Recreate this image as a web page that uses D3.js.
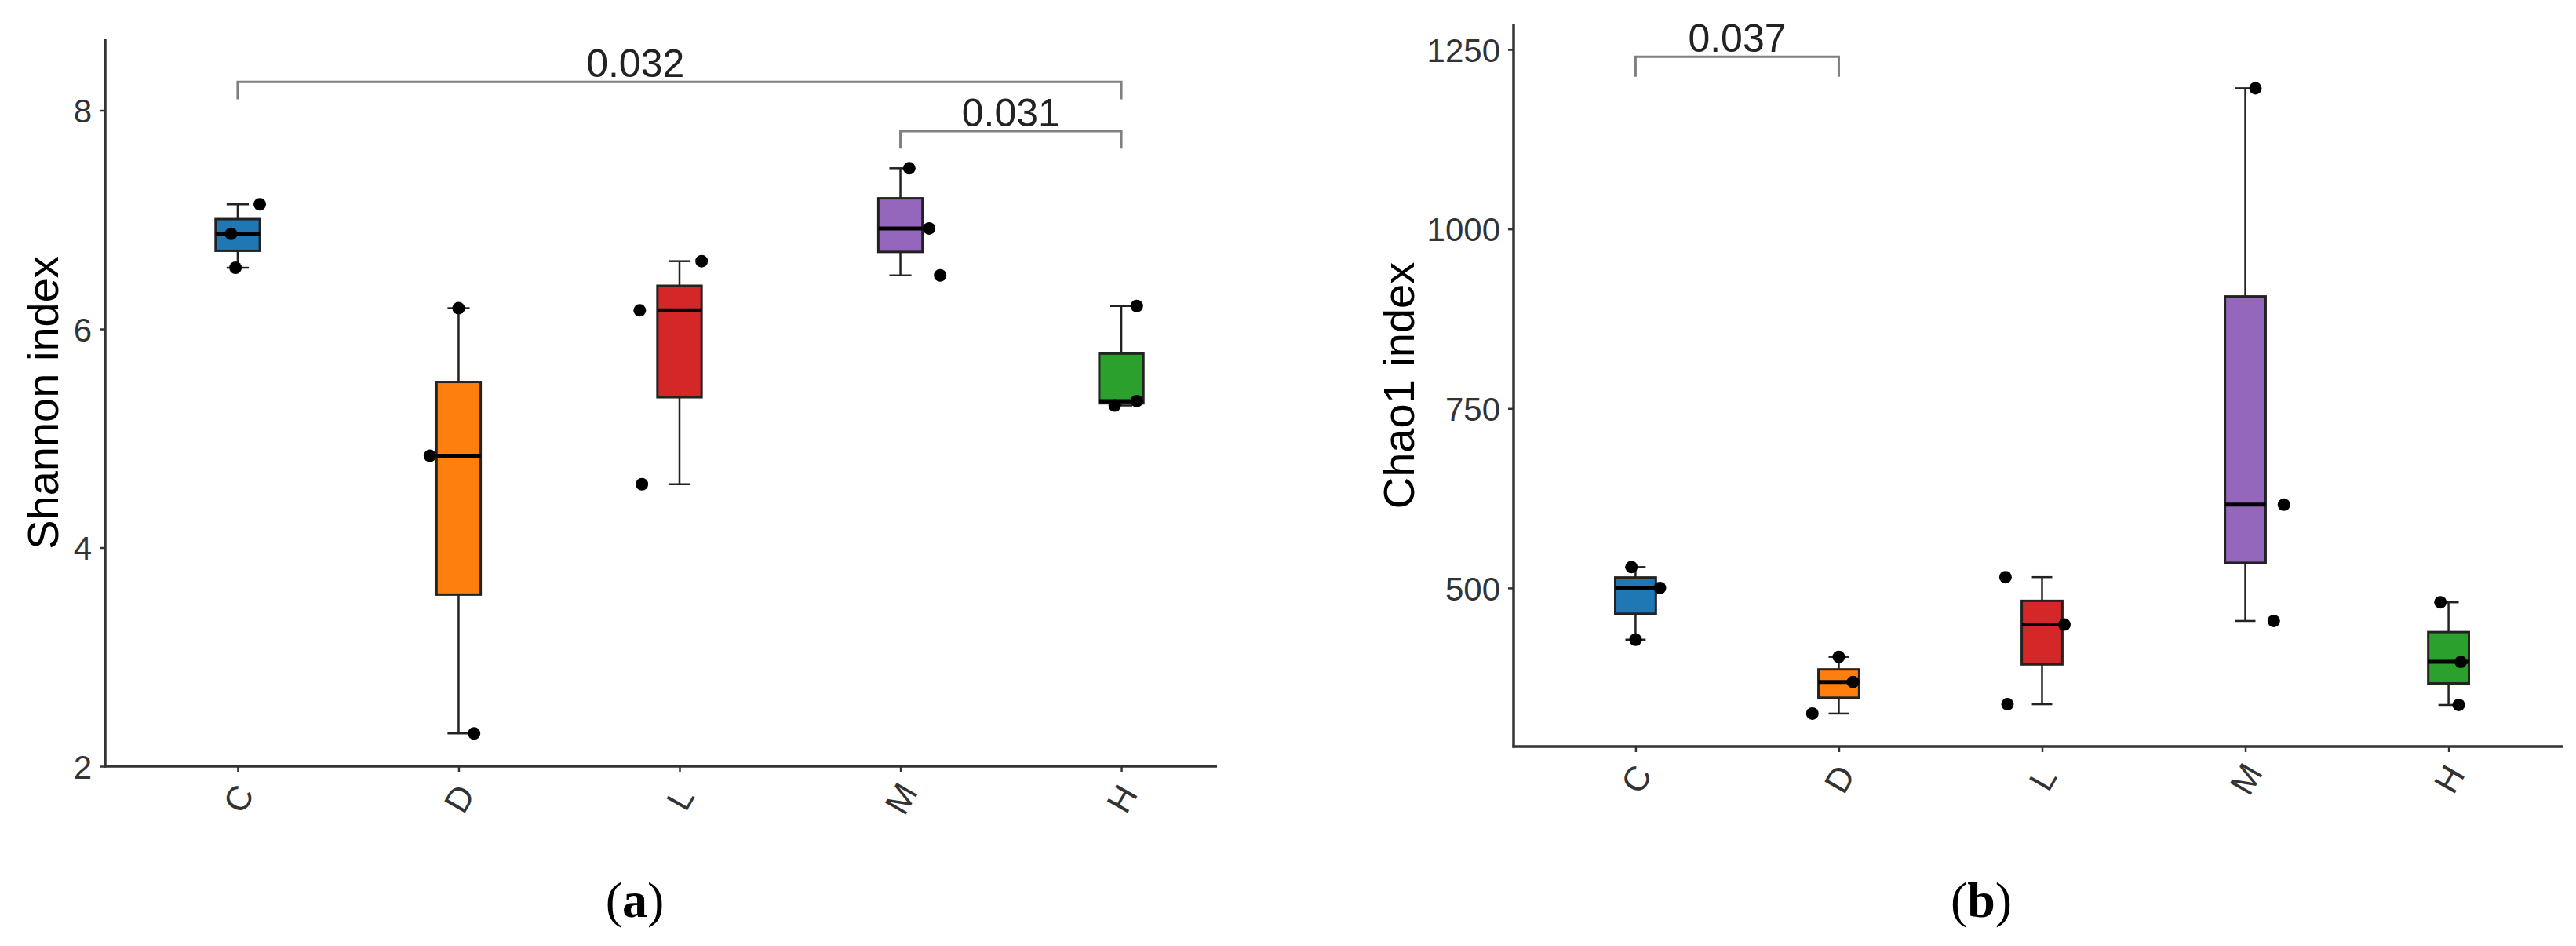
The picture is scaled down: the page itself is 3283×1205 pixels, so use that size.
<!DOCTYPE html>
<html lang="en">
<head>
    <meta charset="UTF-8">
    <script src="https://cdn.jsdelivr.net/npm/d3@7"></script>
    <title>Shannon and Chao1 index</title>
    <style>
        body { margin: 0; background: white; }
        svg { display: block; font-family: "Liberation Sans", Arial, sans-serif; }
        .tick text { fill: #333; font-size: 42px; }
        .tick line { stroke: #333; stroke-width: 2.5px; }
        .axisline { stroke: #333; stroke-width: 3.5px; }
        .ytitle { font-size: 56px; fill: black; }
        .bracket { fill: none; stroke: #808080; stroke-width: 3px; }
        .plabel { font-size: 50px; fill: #222; text-anchor: middle; }
        .panel { font-family: "Liberation Serif", "Times New Roman", serif; font-size: 64px; text-anchor: middle; }
    </style>
</head>
<body>
<script>
    /*------------------------- data -------------------------*/
    const groups = ["C", "D", "L", "M", "H"];
    const groupColors = ["#1f77b4", "#ff7f0e", "#d62728", "#9467bd", "#2ca02c"];

    // three samples per group
    const shannonValues = [
        [7.14, 6.87, 6.56],
        [6.19, 4.84, 2.30],
        [6.17, 6.62, 4.58],
        [7.47, 6.92, 6.49],
        [6.21, 5.30, 5.34]
    ];
    // horizontal jitter of the dots, in category units
    const shannonJitter = [
        [0.10, -0.03, -0.01],
        [0.00, -0.13, 0.07],
        [-0.18, 0.10, -0.17],
        [0.04, 0.13, 0.18],
        [0.07, -0.03, 0.07]
    ];
    const shannonTicks = [2, 4, 6, 8];
    const shannonBrackets = [
        { from: "C", to: "H", p: "0.032", y: 8.26, tip: 8.10, labelAt: 2.8 },
        { from: "M", to: "H", p: "0.031", y: 7.81, tip: 7.65 }
    ];

    const chao1Values = [
        [529, 500, 428],
        [404, 369, 325],
        [515, 449, 338],
        [1196, 616, 454],
        [480, 397, 337]
    ];
    const chao1Jitter = [
        [-0.02, 0.12, 0.00],
        [0.00, 0.07, -0.13],
        [-0.18, 0.11, -0.17],
        [0.05, 0.19, 0.14],
        [-0.04, 0.06, 0.05]
    ];
    const chao1Ticks = [500, 750, 1000, 1250];
    const chao1Brackets = [
        { from: "C", to: "D", p: "0.037", y: 1240, tip: 1212 }
    ];

    /*------------------------ layout ------------------------*/
    const W = 3283, H = 1205;
    const svg = d3.select("body").append("svg")
        .attr("width", W)
        .attr("height", H);

    function drawPanel(cfg) {
        const g = svg.append("g");

        const x = d3.scalePoint()
            .domain(groups)
            .range([cfg.left, cfg.xEnd])
            .padding(0.6);
        const step = x.step();
        const y = d3.scaleLinear()
            .domain(cfg.domain)
            .range([cfg.bottom, cfg.top]);

        // boxes
        const stats = cfg.values.map((vals, i) => {
            const s = vals.slice().sort(d3.ascending);
            return {
                key: groups[i],
                color: groupColors[i],
                min: s[0],
                q1: d3.quantile(s, 0.25),
                med: d3.quantile(s, 0.5),
                q3: d3.quantile(s, 0.75),
                max: s[s.length - 1]
            };
        });

        const boxW = step * 0.2, capW = step * 0.1;
        const box = g.selectAll("g.box").data(stats).enter().append("g").attr("class", "box");

        // whiskers with caps
        box.append("line")
            .attr("x1", d => x(d.key)).attr("x2", d => x(d.key))
            .attr("y1", d => y(d.max)).attr("y2", d => y(d.min))
            .attr("stroke", "#222").attr("stroke-width", 2.5);
        box.selectAll("line.cap")
            .data(d => [d.min, d.max].map(v => ({ key: d.key, v })))
            .enter().append("line").attr("class", "cap")
            .attr("x1", d => x(d.key) - capW / 2).attr("x2", d => x(d.key) + capW / 2)
            .attr("y1", d => y(d.v)).attr("y2", d => y(d.v))
            .attr("stroke", "#222").attr("stroke-width", 2.5);

        box.append("rect")
            .attr("x", d => x(d.key) - boxW / 2)
            .attr("width", boxW)
            .attr("y", d => y(d.q3))
            .attr("height", d => y(d.q1) - y(d.q3))
            .attr("fill", d => d.color)
            .attr("stroke", "#222").attr("stroke-width", 3);
        box.append("line")
            .attr("x1", d => x(d.key) - boxW / 2).attr("x2", d => x(d.key) + boxW / 2)
            .attr("y1", d => y(d.med)).attr("y2", d => y(d.med))
            .attr("stroke", "black").attr("stroke-width", 5);

        // dots
        const pts = [];
        cfg.values.forEach((vals, i) => vals.forEach((v, j) =>
            pts.push({ key: groups[i], v, jit: cfg.jitter[i][j] })));
        g.selectAll("circle.pt").data(pts).enter().append("circle")
            .attr("class", "pt")
            .attr("cx", d => x(d.key) + d.jit * step)
            .attr("cy", d => y(d.v))
            .attr("r", 8)
            .attr("fill", "black");

        // significance brackets
        cfg.brackets.forEach(b => {
            const x1 = x(b.from), x2 = x(b.to);
            g.append("path").attr("class", "bracket")
                .attr("d", `M${x1},${y(b.tip)}V${y(b.y)}H${x2}V${y(b.tip)}`);
            const lx = b.labelAt !== undefined ? cfg.left + (b.labelAt - 1 + 0.6) * step : (x1 + x2) / 2;
            g.append("text").attr("class", "plabel")
                .attr("x", lx).attr("y", y(b.y) - 6)
                .text(b.p);
        });

        // axes
        const yAxis = g.append("g")
            .attr("transform", `translate(${cfg.left},0)`)
            .call(d3.axisLeft(y).tickValues(cfg.ticks).tickFormat(d3.format("d")).tickSize(7).tickPadding(10));
        yAxis.select(".domain").remove();
        yAxis.selectAll(".tick text").attr("dy", "0.36em");

        const xAxis = g.append("g")
            .attr("transform", `translate(0,${cfg.bottom})`)
            .call(d3.axisBottom(x).tickSize(7));
        xAxis.select(".domain").remove();
        xAxis.selectAll(".tick text")
            .attr("y", 0).attr("dy", "0.36em")
            .attr("text-anchor", "middle")
            .style("font-size", "44px")
            .attr("transform", "translate(0,41) rotate(-60)");

        g.append("line").attr("class", "axisline")
            .attr("x1", cfg.left).attr("x2", cfg.left)
            .attr("y1", cfg.top).attr("y2", cfg.bottom + 1.5);
        g.append("line").attr("class", "axisline")
            .attr("x1", cfg.left - 1.5).attr("x2", cfg.axisEnd)
            .attr("y1", cfg.bottom).attr("y2", cfg.bottom);

        g.append("text").attr("class", "ytitle")
            .attr("transform", `translate(${cfg.titleX},${(cfg.top + cfg.bottom) / 2}) rotate(-90)`)
            .attr("text-anchor", "middle")
            .text(cfg.title);

        const lab = svg.append("text").attr("class", "panel")
            .attr("x", cfg.labelX).attr("y", 1168);
        lab.append("tspan").text("(");
        lab.append("tspan").attr("font-weight", "bold").text(cfg.panel);
        lab.append("tspan").text(")");
    }

    drawPanel({
        values: shannonValues, jitter: shannonJitter, ticks: shannonTicks, brackets: shannonBrackets,
        domain: [2, 8.65], left: 134, xEnd: 1598, axisEnd: 1551, top: 50, bottom: 976,
        title: "Shannon index", titleX: 74, panel: "a", labelX: 809
    });
    drawPanel({
        values: chao1Values, jitter: chao1Jitter, ticks: chao1Ticks, brackets: chao1Brackets,
        domain: [279, 1285], left: 1929, xEnd: 3276, axisEnd: 3267, top: 31, bottom: 951,
        title: "Chao1 index", titleX: 1802, panel: "b", labelX: 2525
    });
</script>
</body>
</html>
